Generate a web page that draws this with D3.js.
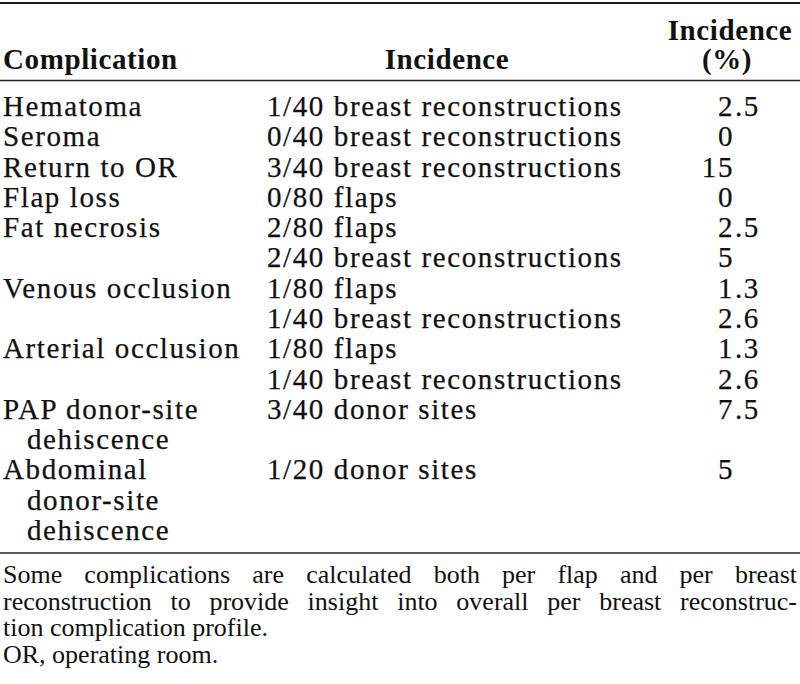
<!DOCTYPE html>
<html>
<head>
<meta charset="utf-8">
<script src="https://cdn.jsdelivr.net/npm/d3@7"></script>
<style>
  body { margin: 0; background: #fff; }
  svg text { font-family: "Liberation Serif", "Times New Roman", serif; fill: #111; }
</style>
</head>
<body>
<div id="chart"></div>
<script>
// table content
const headers = ["Complication", "Incidence", "Incidence", "(%)"];
const labelLines = [
  ["Hematoma"], ["Seroma"], ["Return to OR"], ["Flap loss"], ["Fat necrosis"],
  ["Venous occlusion"], ["Arterial occlusion"],
  ["PAP donor-site", "dehiscence"],
  ["Abdominal", "donor-site", "dehiscence"]
];
const incidence = [
  ["1/40 breast reconstructions"], ["0/40 breast reconstructions"], ["3/40 breast reconstructions"],
  ["0/80 flaps"], ["2/80 flaps", "2/40 breast reconstructions"],
  ["1/80 flaps", "1/40 breast reconstructions"], ["1/80 flaps", "1/40 breast reconstructions"],
  ["3/40 donor sites"], ["1/20 donor sites"]
];
const percent = [["2.5"], ["0"], ["15"], ["0"], ["2.5", "5"], ["1.3", "2.6"], ["1.3", "2.6"], ["7.5"], ["5"]];
const footLines = [
  "Some complications are calculated both per flap and per breast",
  "reconstruction to provide insight into overall per breast reconstruc-",
  "tion complication profile.",
  "OR, operating room."
];

var width = 800, height = 684;
var svg = d3.select("#chart").append("svg")
  .attr("width", width).attr("height", height);

// build line slots
var rows = [];
var slot = 0;
labelLines.forEach(function(lab, i) {
  var n = Math.max(lab.length, incidence[i].length);
  rows.push({start: slot, lab: lab, inc: incidence[i], pct: percent[i]});
  slot += n;
});
var y = d3.scaleLinear().domain([0, slot - 1]).range([116, 540]);
var colX = {lab: 3, labIndent: 27, inc: 267, dec: 734};

// rules
svg.append("line").attr("x1", 0).attr("x2", width).attr("y1", 3).attr("y2", 3)
  .attr("stroke", "#1a1a1a").attr("stroke-width", 2.2);
svg.append("line").attr("x1", 0).attr("x2", width).attr("y1", 80.5).attr("y2", 80.5)
  .attr("stroke", "#222").attr("stroke-width", 1.5);
svg.append("line").attr("x1", 0).attr("x2", width).attr("y1", 553).attr("y2", 553)
  .attr("stroke", "#222").attr("stroke-width", 1.5);

// headers
var hd = svg.append("g").style("font-weight", "bold").style("font-size", "29px").style("letter-spacing", "0.6px");
hd.append("text").attr("x", 3).attr("y", 69).text(headers[0]);
hd.append("text").attr("x", 447).attr("y", 69).attr("text-anchor", "middle").text(headers[1]);
hd.append("text").attr("x", 730).attr("y", 40).attr("text-anchor", "middle").text(headers[2]);
hd.append("text").attr("x", 727).attr("y", 69).attr("text-anchor", "middle").text(headers[3]);

// body
var body = svg.append("g").style("font-size", "29px").style("letter-spacing", "1.6px")
  .style("stroke", "#111").style("stroke-width", "0.25px");
rows.forEach(function(r) {
  r.lab.forEach(function(t, k) {
    body.append("text").attr("x", k == 0 ? colX.lab : colX.labIndent).attr("y", y(r.start + k)).text(t);
  });
  r.inc.forEach(function(t, k) {
    body.append("text").attr("x", colX.inc).attr("y", y(r.start + k)).text(t);
  });
  r.pct.forEach(function(t, k) {
    var parts = t.split(".");
    body.append("text").attr("x", colX.dec).attr("y", y(r.start + k)).attr("text-anchor", "end").text(parts[0]);
    if (parts.length > 1)
      body.append("text").attr("x", colX.dec + 1).attr("y", y(r.start + k)).text("." + parts[1]);
  });
});

// footnote, first two lines justified
var foot = svg.append("g").style("font-size", "26px");
footLines.forEach(function(line, i) {
  var by = 583 + i * 26.6;
  if (i < 2) {
    var words = line.split(" ");
    var nodes = words.map(function(w) { return foot.append("text").attr("y", by).text(w); });
    var total = d3.sum(nodes, function(n) { return n.node().getComputedTextLength(); });
    var gap = (797 - 3 - total) / (words.length - 1);
    var x = 3;
    nodes.forEach(function(n) {
      n.attr("x", x);
      x += n.node().getComputedTextLength() + gap;
    });
  } else {
    foot.append("text").attr("x", 3).attr("y", by).text(line);
  }
});
</script>
</body>
</html>
